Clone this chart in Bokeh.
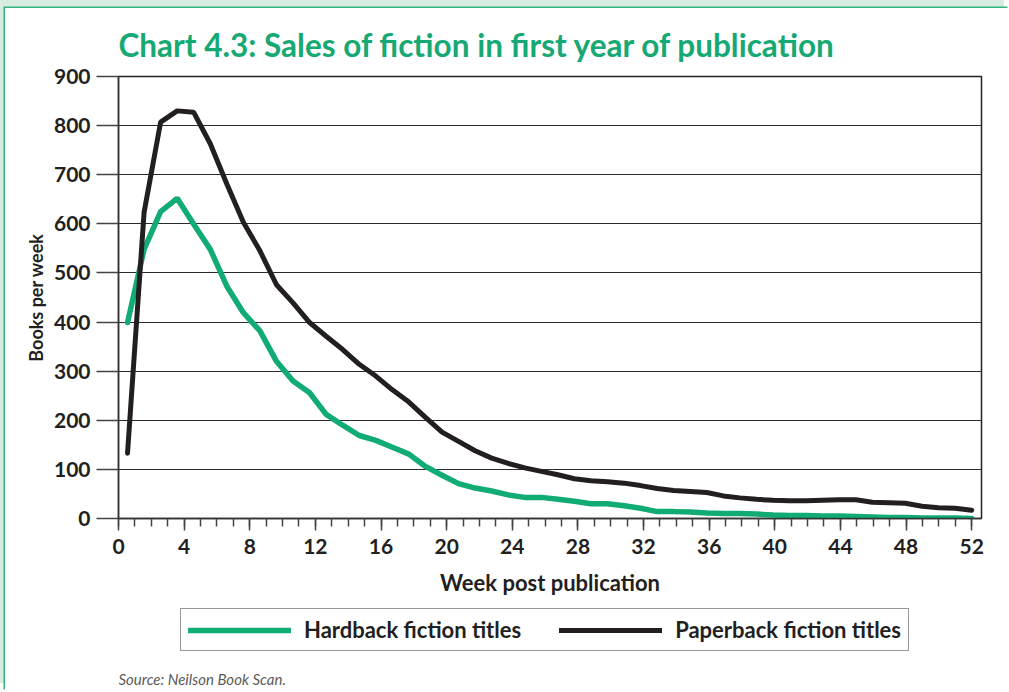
import numpy as np
from bokeh.plotting import figure
from bokeh.layouts import column
from bokeh.models import Legend, LegendItem, SingleIntervalTicker, Range1d, Label
from bokeh.embed import file_html
from bokeh.resources import INLINE

# ---- data ----
week = list(range(1, 53))
hardback = [399, 548, 625, 652, 599, 548, 473, 419, 382, 320,
            280, 256, 212, 190, 169, 159, 145, 131, 106, 88,
            71, 62, 56, 48, 43, 43, 39, 35, 30, 30,
            26, 21, 14, 14, 13, 11, 10, 10, 9, 7,
            6, 6, 5, 5, 4, 3, 2, 2, 1, 1,
            1, 0]
paperback = [133, 623, 807, 830, 827, 763, 681, 603, 545, 476,
             439, 399, 371, 344, 314, 290, 262, 237, 206, 176,
             157, 138, 123, 112, 103, 96, 89, 81, 77, 75,
             72, 67, 61, 57, 55, 53, 46, 42, 39, 37,
             36, 36, 37, 38, 38, 33, 32, 31, 25, 22,
             21, 17]
series_names = ["Hardback fiction titles", "Paperback fiction titles"]
title_text = "Chart 4.3: Sales of fiction in first year of publication"
x_title = "Week post publication"
y_title = "Books per week"
source_text = "Source: Neilson Book Scan."

# plotted positions of the weekly points along the week axis
x_pos = np.linspace(0.55, 52.0, len(week))

GREEN = "#10ac74"
BLACK = "#231f20"
FONT = "Lato"
BL, BR = 113, 28   # side borders shared by both stacked figures

fig = figure(width=1004, height=600, output_backend="svg", toolbar_location=None,
             x_range=Range1d(0, 52.6), y_range=Range1d(0, 900),
             min_border_left=BL, min_border_right=BR,
             min_border_top=68, min_border_bottom=90,
             background_fill_color="white", border_fill_color="white")
fig.outline_line_color = "#222222"
fig.outline_line_width = 1.5

# title
fig.title.text = title_text
fig.title.align = "left"
fig.title.text_font = FONT
fig.title.text_font_style = "bold"
fig.title.text_font_size = "31.5px"
fig.title.text_color = "#16a974"
fig.title.standoff = 25

# axes
fig.xaxis.ticker = SingleIntervalTicker(interval=4, num_minor_ticks=4)
fig.yaxis.ticker = SingleIntervalTicker(interval=100, num_minor_ticks=0)

for ax in (fig.xaxis[0], fig.yaxis[0]):
    ax.axis_line_color = "#333333"
    ax.axis_line_width = 1.5
    ax.major_tick_line_color = "#444444"
    ax.major_tick_line_width = 1.5
    ax.minor_tick_line_color = "#444444"
    ax.minor_tick_line_width = 1.5
    ax.major_tick_in = 0
    ax.minor_tick_in = 0
    ax.major_label_text_font = FONT
    ax.major_label_text_font_style = "bold"
    ax.major_label_text_color = "#231f20"
    ax.axis_label_text_font = FONT
    ax.axis_label_text_font_style = "bold"
    ax.axis_label_text_color = "#231f20"

fig.xaxis.major_tick_out = 12
fig.xaxis.minor_tick_out = 8
fig.xaxis.major_label_text_font_size = "21px"
fig.xaxis.major_label_standoff = 8
fig.xaxis.axis_label = x_title
fig.xaxis.axis_label_text_font_size = "22px"
fig.xaxis.axis_label_standoff = 12

fig.yaxis.major_tick_out = 22
fig.yaxis.minor_tick_out = 0
fig.yaxis.major_label_text_font_size = "21px"
fig.yaxis.major_label_standoff = 6
fig.yaxis.axis_label = y_title
fig.yaxis.axis_label_text_font_size = "18px"
fig.yaxis.axis_label_standoff = 4

fig.xgrid.visible = False
fig.ygrid.grid_line_color = "#2b2b2b"
fig.ygrid.grid_line_width = 1.2

# lines
fig.line(x_pos, hardback, line_color=GREEN, line_width=5.5, line_cap="round")
fig.line(x_pos, paperback, line_color=BLACK, line_width=5, line_cap="round")

# ---- legend + source strip (frame aligned with the chart above; data = pixels) ----
FW = 1004 - BL - BR
leg = figure(width=1004, height=83, output_backend="svg", toolbar_location=None,
             x_range=Range1d(0, FW), y_range=Range1d(0, 83),
             x_axis_type=None, y_axis_type=None,
             min_border_left=BL, min_border_right=BR, min_border_top=0, min_border_bottom=0,
             background_fill_color="white", border_fill_color="white")
leg.outline_line_color = None
leg.grid.visible = False
lg = leg.line(x_pos, hardback, line_color=GREEN, line_width=5.5, line_cap="round", visible=False)
lb = leg.line(x_pos, paperback, line_color=BLACK, line_width=5, line_cap="round", visible=False)

legend = Legend(items=[LegendItem(label=series_names[0], renderers=[lg]),
                       LegendItem(label=series_names[1], renderers=[lb])],
                location=(62, 40), orientation="horizontal",
                glyph_width=103, glyph_height=20, label_standoff=13,
                spacing=38, padding=7, margin=0,
                label_text_font=FONT, label_text_font_style="bold",
                label_text_font_size="22px", label_text_color="#231f20",
                border_line_color="#333333", border_line_width=1.5,
                background_fill_color="white", background_fill_alpha=1.0)
leg.add_layout(legend)

src = Label(x=0, y=13, text=source_text, text_font=FONT, text_font_style="italic",
            text_font_size="15px", text_color="#5a5a5a", text_baseline="alphabetic")
leg.add_layout(src)

p = column(fig, leg, spacing=0)
p.styles = {"margin-left": "5px", "margin-top": "8px",
            "box-shadow": "-1.5px -1.5px 0 0 #35b37c, -5px -8px 0 0 #d6ece0"}

open("out.html", "w").write(file_html(p, INLINE))
